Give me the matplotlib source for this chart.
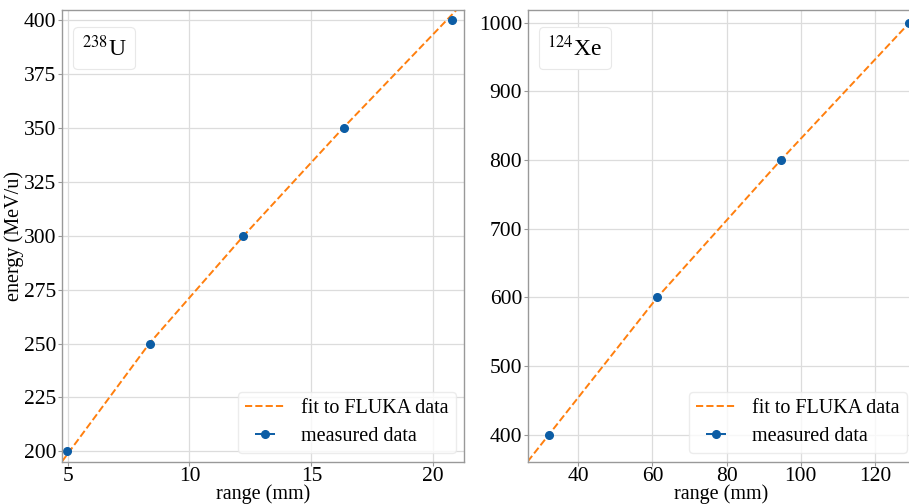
import matplotlib
matplotlib.use("Agg")
import matplotlib.pyplot as plt
from matplotlib.offsetbox import AnchoredText

plt.rcParams['font.family'] = ['Liberation Serif', 'DejaVu Serif']
plt.rcParams['mathtext.fontset'] = 'stix'

u_range = [4.97, 8.38, 12.19, 16.34, 20.75]
u_energy = [200, 250, 300, 350, 400]
u_fit_range = [4.77, 8.35, 12.22, 16.3, 20.97]
u_fit_energy = [195.3, 250, 300, 350, 405]

# 124Xe measurements and fit curve
xe_range = [32.0, 61.3, 94.6, 129.3]
xe_energy = [400, 600, 800, 1000]
xe_fit_range = [26.35, 61.3, 94.6, 129.3, 130.8]
xe_fit_energy = [361, 600, 800, 1000, 1009]

blue = '#0C5DA5'
orange = '#ff7f0e'

fig = plt.figure(figsize=(9.09, 5.04), dpi=100)
ax1 = fig.add_axes([62 / 909, 1 - 461.5 / 504, (464 - 62) / 909, (461.5 - 9.7) / 504])
ax2 = fig.add_axes([527.7 / 909, 1 - 461.5 / 504, (915 - 527.7) / 909, (461.5 - 9.7) / 504])


def style(ax, label, box_x):
    ax.grid(True, color='#dcdcdc', lw=0.9)
    ax.set_axisbelow(True)
    for s in ax.spines.values():
        s.set_color('#999999')
        s.set_linewidth(1.0)
    ax.tick_params(labelsize=15.5, length=3, color='#999999', pad=1)
    ax.set_xlabel('range (mm)', fontsize=14.5, labelpad=-1)
    at = AnchoredText(label, loc='upper left', prop=dict(size=17), frameon=True,
                      borderpad=0, pad=0.36, bbox_to_anchor=(box_x, 0.962),
                      bbox_transform=ax.transAxes)
    at.patch.set_boxstyle('round,pad=0,rounding_size=0.2')
    at.patch.set_edgecolor('#e8e8e8')
    at.patch.set_linewidth(0.8)
    ax.add_artist(at)
    leg = ax.legend(loc='lower right', fontsize=14.5, frameon=True, fancybox=True,
                    borderpad=0.35, labelspacing=0.45, handlelength=2.0,
                    borderaxespad=0.4)
    leg.get_frame().set_edgecolor('#e8e8e8')


ax1.plot(u_fit_range, u_fit_energy, '--', color=orange, lw=1.4, label='fit to FLUKA data')
ax1.errorbar(u_range, u_energy, xerr=[0] * len(u_range), fmt='o', color=blue, ms=5.5,
             elinewidth=1.4, label='measured data')
ax1.set_xlim(4.77, 21.26)
ax1.set_ylim(195.3, 404.9)
ax1.set_xticks([5, 10, 15, 20])
ax1.set_yticks([200, 225, 250, 275, 300, 325, 350, 375, 400])
ax1.set_ylabel('energy (MeV/u)', fontsize=14.5, labelpad=0)
style(ax1, r'$^{238}$U', 11 / 402)

ax2.plot(xe_fit_range, xe_fit_energy, '--', color=orange, lw=1.4, label='fit to FLUKA data')
ax2.errorbar(xe_range, xe_energy, xerr=[0] * len(xe_range), fmt='o', color=blue, ms=5.5,
             elinewidth=1.4, label='measured data')
ax2.set_xlim(26.35, 130.8)
ax2.set_ylim(361, 1019)
ax2.set_xticks([40, 60, 80, 100, 120])
ax2.set_yticks([400, 500, 600, 700, 800, 900, 1000])
style(ax2, r'$^{124}$Xe', 11 / 387)

fig.savefig('out.png', dpi=100)
